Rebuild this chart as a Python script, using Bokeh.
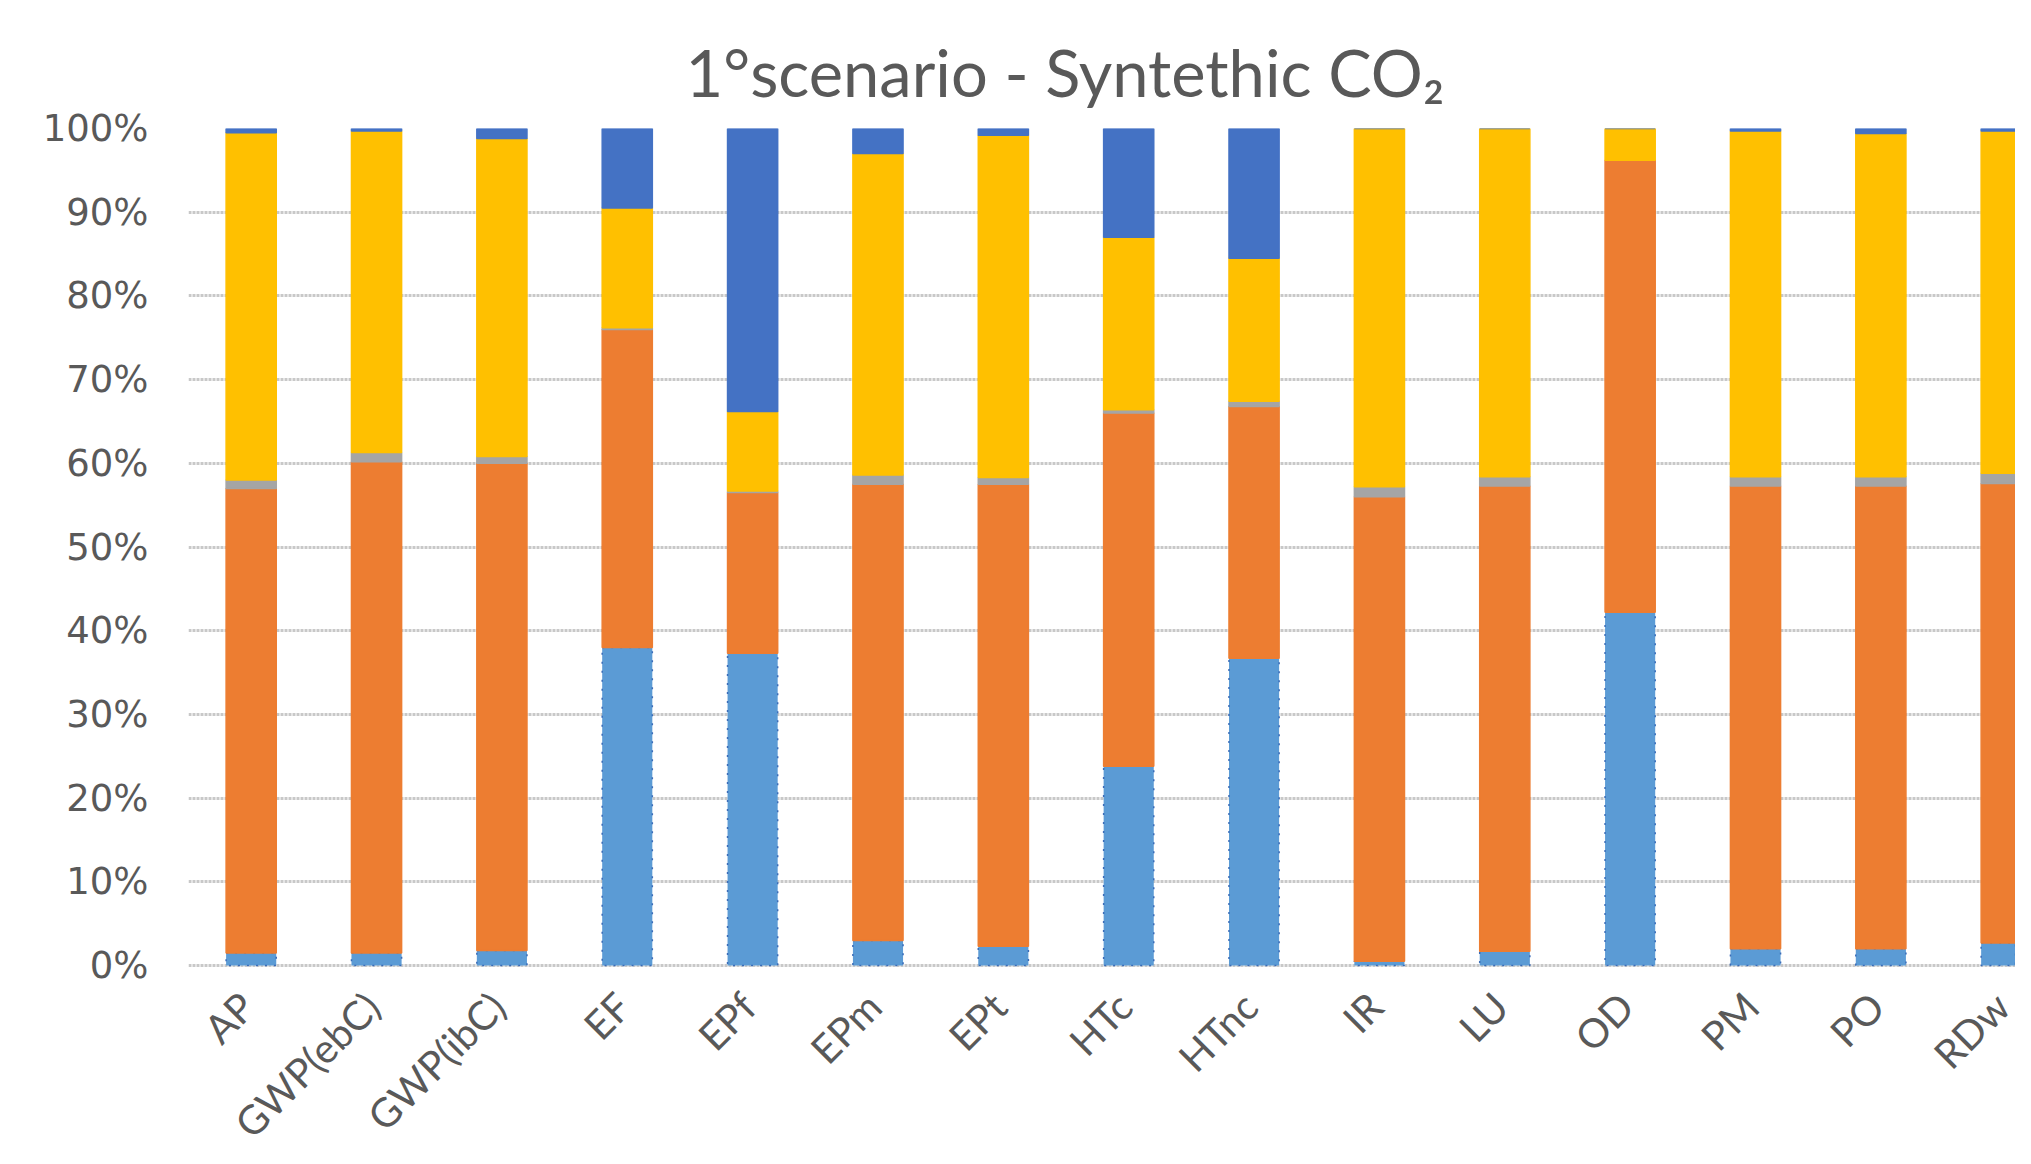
import math
from bokeh.plotting import figure
from bokeh.models import ColumnDataSource, Range1d, FixedTicker, NumeralTickFormatter
from bokeh.core.properties import value
from bokeh.embed import file_html
from bokeh.resources import INLINE

categories = ["AP", "GWP(ebC)", "GWP(ibC)", "EF", "EPf", "EPm", "EPt", "HTc",
              "HTnc", "IR", "LU", "OD", "PM", "PO", "RDw"]
series_1 = [1.5, 1.5, 1.8, 38.0, 37.3, 3.0, 2.3, 23.8, 36.7, 0.5, 1.7, 42.2, 2.0, 2.0, 2.7]
series_2 = [55.5, 58.7, 58.2, 38.0, 19.2, 54.5, 55.2, 42.2, 30.1, 55.5, 55.6, 54.0, 55.3, 55.3, 54.9]
series_3 = [1.0, 1.1, 0.8, 0.2, 0.2, 1.1, 0.8, 0.4, 0.6, 1.2, 1.1, 0.0, 1.1, 1.1, 1.2]
series_4 = [41.5, 38.4, 38.0, 14.3, 9.5, 38.4, 40.9, 20.6, 17.1, 42.8, 41.6, 3.8, 41.3, 41.0, 40.9]
series_5 = [0.5, 0.3, 1.2, 9.5, 33.8, 3.0, 0.8, 13.0, 15.5, 0.0, 0.0, 0.0, 0.3, 0.6, 0.3]
y_ticks = [0, 0.1, 0.2, 0.3, 0.4, 0.5, 0.6, 0.7, 0.8, 0.9, 1.0]
title_text = "1°scenario - Syntethic CO₂"

names = ["s1", "s2", "s3", "s4", "s5"]
raw = [series_1, series_2, series_3, series_4, series_5]
totals = [sum(v) for v in zip(*raw)]
data = {"x": list(range(len(categories)))}
for n, s in zip(names, raw):
    data[n] = [v / t for v, t in zip(s, totals)]
source = ColumnDataSource(data)

colors = ["#5B9BD5", "#ED7D31", "#A5A5A5", "#FFC000", "#4472C4"]
line_colors = ["#3A6CB8", "#ED7D31", "#A5A5A5", "#FFC000", "#4472C4"]
line_dashes = ["2 7", "solid", "solid", "solid", "solid"]

W, H = 2015, 1148
LEFT, TOP = 188, 128
ZERO_Y = 965                      # canvas row of the 0% line
PX_PER_UNIT = ZERO_Y - TOP        # pixels spanned by 0..100%
y_start = -(H - ZERO_Y) / PX_PER_UNIT

p = figure(width=W, height=H, output_backend="svg", toolbar_location=None,
           x_range=Range1d(-0.5, -0.5 + (W - LEFT) / 125.36),
           y_range=Range1d(y_start, 1),
           min_border_left=LEFT, min_border_right=0, min_border_top=TOP, min_border_bottom=0)

p.vbar_stack(names, x="x", width=0.4, source=source, fill_color=colors,
             line_color=line_colors, line_width=1.5, line_dash=line_dashes)

p.title.text = title_text
p.title.align = "left"
p.title.offset = 497
p.title.text_font = "Lato"
p.title.text_font_size = "65px"
p.title.text_font_style = "normal"
p.title.text_color = "#595959"
p.title.standoff = 35

p.outline_line_color = None
p.background_fill_color = "white"
p.border_fill_color = "white"

p.xgrid.grid_line_color = None
p.ygrid.ticker = FixedTicker(ticks=y_ticks)
p.ygrid.grid_line_color = "#C8C8C8"
p.ygrid.grid_line_width = 3
p.ygrid.grid_line_dash = "3 1"

p.yaxis.ticker = FixedTicker(ticks=y_ticks)
p.yaxis.formatter = NumeralTickFormatter(format="0%")
p.yaxis.axis_line_color = None
p.yaxis.major_tick_line_color = None
p.yaxis.minor_tick_line_color = None
p.yaxis.major_label_text_font = "DejaVu Sans"
p.yaxis.major_label_text_font_size = "37px"
p.yaxis.major_label_text_color = "#595959"
p.yaxis.major_label_standoff = 34

p.xaxis.visible = False

label_src = ColumnDataSource(dict(x=list(range(len(categories))),
                                  y=[-34 / PX_PER_UNIT] * len(categories),
                                  text=categories))
p.text(x="x", y="y", text="text", source=label_src, angle=math.pi / 4,
       text_align="right", text_baseline="middle", x_offset=-4,
       text_font=value("Lato"), text_font_size="40px", text_color="#595959")

open("out.html", "w").write(file_html(p, INLINE))
